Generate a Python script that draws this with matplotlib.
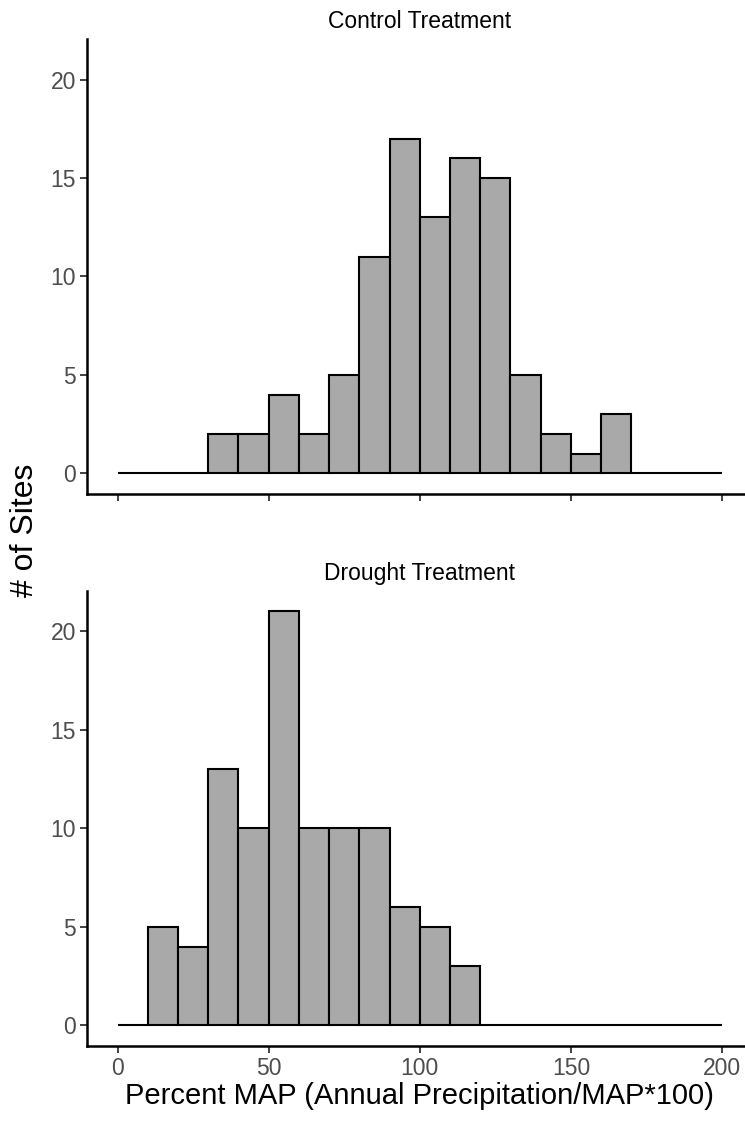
import matplotlib
matplotlib.use("Agg")
import matplotlib.pyplot as plt

# histogram bins (percent MAP), width 10
bin_left = [0, 10, 20, 30, 40, 50, 60, 70, 80, 90,
            100, 110, 120, 130, 140, 150, 160, 170, 180, 190]
control_counts = [0, 0, 0, 2, 2, 4, 2, 5, 11, 17,
                  13, 16, 15, 5, 2, 1, 3, 0, 0, 0]
drought_counts = [0, 5, 4, 13, 10, 21, 10, 10, 10, 6,
                  5, 3, 0, 0, 0, 0, 0, 0, 0, 0]

panel_titles = ["Control Treatment", "Drought Treatment"]
x_ticks = [0, 50, 100, 150, 200]
y_ticks = [0, 5, 10, 15, 20]

plt.rcParams["font.family"] = ["Liberation Sans", "DejaVu Sans"]

fig = plt.figure(figsize=(7.45, 11.22), dpi=100)
ax_top = fig.add_axes([0.1172, 0.5597, 0.8926, 0.4053])
ax_bot = fig.add_axes([0.1172, 0.0677, 0.8926, 0.4058])

for ax, counts, title, show_x in [
    (ax_top, control_counts, panel_titles[0], False),
    (ax_bot, drought_counts, panel_titles[1], True),
]:
    ax.bar(bin_left, counts, width=10, align="edge",
           color="#A9A9A9", edgecolor="black", linewidth=1.5)
    ax.set_xlim(-10, 210)
    ax.set_ylim(-1.05, 22.05)
    ax.set_xticks(x_ticks)
    ax.set_yticks(y_ticks)
    if not show_x:
        ax.set_xticklabels([])
    for side in ("top", "right"):
        ax.spines[side].set_visible(False)
    for side in ("left", "bottom"):
        ax.spines[side].set_linewidth(1.8)
    ax.tick_params(length=5, width=1.3, color="#333333",
                   labelcolor="#4D4D4D", labelsize=16.5, pad=3)
    ax.set_title(title, fontsize=16.5, color="black", pad=8)

ax_bot.set_xlabel("Percent MAP (Annual Precipitation/MAP*100)",
                  fontsize=21, labelpad=1)
fig.text(0.034, 0.527, "# of Sites", rotation=90, fontsize=23,
         ha="center", va="center")

fig.savefig("out.png", dpi=100)
